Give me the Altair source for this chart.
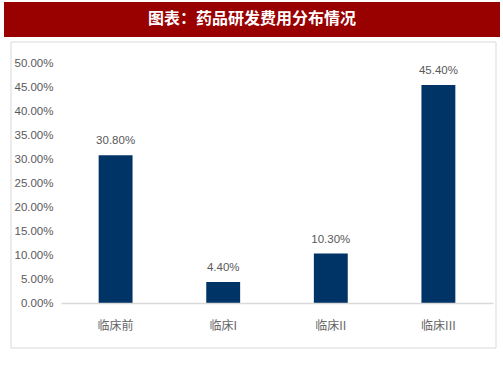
import altair as alt
import pandas as pd

categories = ["临床前", "临床I", "临床II", "临床III"]
values = [0.308, 0.044, 0.103, 0.454]
y_ticks = [0, 0.05, 0.10, 0.15, 0.20, 0.25, 0.30, 0.35, 0.40, 0.45, 0.50]
title_text = "图表：药品研发费用分布情况"

df = pd.DataFrame({"cat": categories, "val": values})

frame = alt.Chart(pd.DataFrame({"a": [0]})).mark_rect(
    fill=None, fillOpacity=0, stroke="#D9D9D9", strokeWidth=1, clip=False
).encode(x=alt.value(-50), x2=alt.value(435), y=alt.value(-21), y2=alt.value(285))

banner = alt.Chart(pd.DataFrame({"a": [0]})).mark_rect(
    fill="#990000", clip=False
).encode(x=alt.value(-57), x2=alt.value(439), y=alt.value(-61), y2=alt.value(-26))

title = alt.Chart(pd.DataFrame({"t": [title_text]})).mark_text(
    color="white", font="Noto Sans CJK SC", fontSize=16, fontWeight="bold",
    align="center", baseline="middle", clip=False
).encode(x=alt.value(191), y=alt.value(-44), text="t:N")

xenc = alt.X("cat:N", sort=categories, title=None,
             scale=alt.Scale(paddingInner=0.685, paddingOuter=0.35),
             axis=alt.Axis(labelAngle=0, labelColor="#666666", labelFont="Noto Sans CJK SC",
                           labelFontSize=12, labelPadding=17, ticks=False,
                           domainColor="#D9D9D9", domainWidth=1.5, zindex=1))
yenc = alt.Y("val:Q", title=None,
             scale=alt.Scale(domain=[0, 0.5], nice=False),
             axis=alt.Axis(values=y_ticks, format=".2%", grid=False, ticks=False, domain=False,
                           labelColor="#595959", labelFont="Liberation Sans",
                           labelFontSize=11.5, labelPadding=8, zindex=1,
                           labelOverlap=False, labelFlush=False))

base = alt.Chart(df).encode(x=xenc, y=yenc)
bars = base.mark_bar(color="#003366")
labels = base.mark_text(baseline="bottom", dy=-9, color="#595959",
                        font="Liberation Sans", fontSize=11.5).encode(
    text=alt.Text("val:Q", format=".2%"))

chart = alt.layer(frame, banner, title, bars, labels).properties(
    width=432, height=240,
    autosize=alt.AutoSizeParams(type="none"),
    padding={"left": 61, "top": 63, "right": 10, "bottom": 75},
    background="white",
).configure_view(stroke=None).configure_axisY(labelOverlap=False)

chart.save("out.html", embed_options={"renderer": "svg", "actions": False})
